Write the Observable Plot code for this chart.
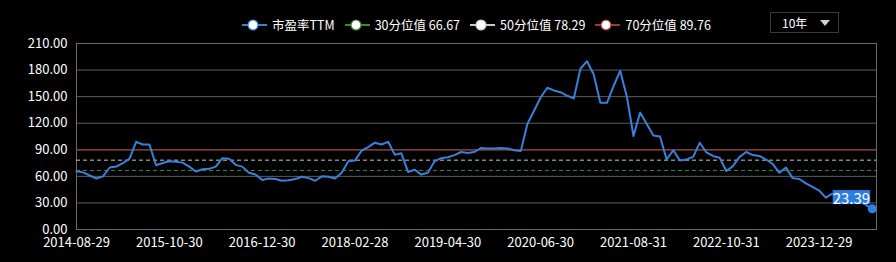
<!DOCTYPE html>
<html><head><meta charset="utf-8">
<script src="https://cdn.jsdelivr.net/npm/d3@7"></script>
<script src="https://cdn.jsdelivr.net/npm/@observablehq/plot@0.6"></script>
<style>
body{margin:0;background:#000;}
#wrap{position:relative;width:896px;height:262px;background:#000;font-family:"Noto Sans CJK SC","Noto Sans",sans-serif;color:#fff;overflow:hidden;}
#legend{position:absolute;left:242px;top:16px;display:flex;gap:10px;font-size:12.5px;line-height:18px;white-space:nowrap;}
#legend .item{display:flex;align-items:center;}
#legend svg{margin-right:5px;}
#dd{position:absolute;left:770px;top:12px;width:67px;height:19px;border:1px solid #3a3a3a;font-size:12px;line-height:19px;box-sizing:content-box;}
#dd span{position:absolute;left:11px;top:0;}
#dd i{position:absolute;right:8px;top:7px;width:0;height:0;border-left:5px solid transparent;border-right:5px solid transparent;border-top:6px solid #cfcfcf;}
#chart{position:absolute;left:0;top:0;}
</style></head>
<body>
<div id="wrap">
  <div id="chart"></div>
  <div id="legend"></div>
  <div id="dd"><span>10年</span><i></i></div>
</div>
<script>
// ---- data ----
const pe = [
  65.8, 64.5, 61, 57.5, 60, 70, 71, 75, 80, 99,
  96, 96, 72.5, 75, 77, 76.5, 75.5, 71, 65.5, 68,
  68.5, 71, 80.5, 80, 73, 71, 64, 62, 56, 57.5,
  57, 55, 55.5, 57, 59.5, 58, 55, 60, 59.5, 57.5,
  64, 77, 78, 89, 93, 98, 96, 99, 84.5, 86,
  65, 67.5, 62, 64, 77, 80.5, 81.5, 84, 87.5, 86.5,
  87.5, 92, 91.5, 91.5, 92, 91.5, 89.5, 88.5, 119, 134,
  149, 160, 157, 155, 151, 148, 181.5, 190, 175, 143,
  143, 162, 179, 150, 105.6, 132, 119, 106, 105, 79,
  89.5, 78, 79, 82, 98, 87, 83, 81, 66, 71.5,
  82, 87.5, 84, 83, 79, 74, 64, 70, 58, 57,
  52, 48, 44, 36, 40.5, 41, 39, 36, 32, 28,
  23.39
];
const xTickIndex = [0, 14, 28, 42, 56, 70, 84, 98, 112];
const xTickLabels = ["2014-08-29","2015-10-30","2016-12-30","2018-02-28","2019-04-30","2020-06-30","2021-08-31","2022-10-31","2023-12-29"];
const yTicks = [0, 30, 60, 90, 120, 150, 180, 210];
const seriesName = "市盈率TTM";
const pctNames = ["30分位值", "50分位值", "70分位值"];
const pctValues = [66.67, 78.29, 89.76];

// ---- styles ----
const lineColor = "#3a80da";
const pctColors = ["#3a8c3a", "#c8c8c8", "#a8372e"];
const pctDash = ["4,3", "4,3", null];
const gridColor = "#5e5e5e";

const data = pe.map((v, i) => ({i, v}));
const last = data[data.length - 1];

const chart = Plot.plot({
  width: 896, height: 262,
  marginLeft: 76, marginRight: 20, marginTop: 43, marginBottom: 33,
  style: {background: "#000", color: "#fff", fontFamily: '"Noto Sans CJK SC","Noto Sans",sans-serif', fontSize: "13px"},
  x: {domain: [0, pe.length - 0.35], ticks: xTickIndex, tickFormat: i => xTickLabels[xTickIndex.indexOf(i)], tickSize: 0, tickPadding: 8, label: null},
  y: {domain: [0, 210], ticks: yTicks, tickFormat: d => d.toFixed(2), tickSize: 0, tickPadding: 9, label: null},
  marks: [
    Plot.ruleY(yTicks, {stroke: gridColor}),
    Plot.frame({stroke: "#6a6a6a"}),
    ...pctValues.map((v, k) => Plot.ruleY([v], {stroke: pctColors[k], strokeDasharray: pctDash[k] || undefined})),
    Plot.line(data, {x: "i", y: "v", stroke: lineColor, strokeWidth: 2}),
    Plot.dot([last], {x: "i", y: "v", r: 4.5, fill: "#2f80e6"}),
    Plot.text([last], {x: "i", y: "v", text: d => d.v.toFixed(2), textAnchor: "end", dx: -2, dy: -10, fill: "#fff", fontSize: 15})
  ]
});
document.getElementById("chart").appendChild(chart);

// background box behind the last-value label
const t = chart.querySelector('g[aria-label="text"] text');
if (t) {
  const b = t.getBBox();
  const cy = b.y + b.height / 2;
  const r = document.createElementNS("http://www.w3.org/2000/svg", "rect");
  r.setAttribute("x", b.x);
  r.setAttribute("y", cy - 7);
  r.setAttribute("width", b.width);
  r.setAttribute("height", 14);
  r.setAttribute("fill", "#2b7de2");
  if (t.getAttribute("transform")) r.setAttribute("transform", t.getAttribute("transform"));
  t.parentNode.insertBefore(r, t);
}

// legend
const legend = document.getElementById("legend");
const items = [{label: seriesName, color: lineColor}].concat(pctNames.map((n, k) => ({label: n + " " + pctValues[k].toFixed(2), color: pctColors[k]})));
for (const it of items) {
  const d = document.createElement("div");
  d.className = "item";
  d.innerHTML = `<svg width="25" height="12"><line x1="0" x2="25" y1="6" y2="6" stroke="${it.color}" stroke-width="2"/><circle cx="11" cy="6" r="5" fill="#fff" stroke="${it.color}" stroke-width="1.2"/></svg><span>${it.label}</span>`;
  legend.appendChild(d);
}
</script>
</body></html>
